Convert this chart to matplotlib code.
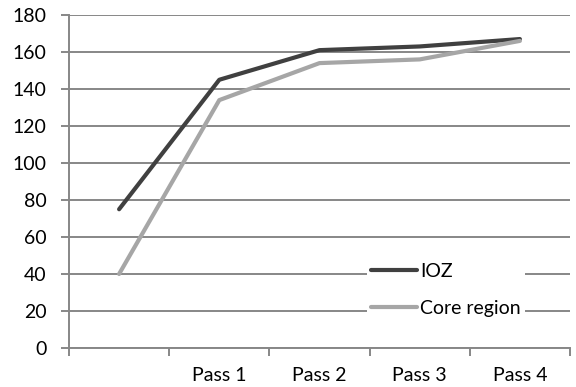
import matplotlib.pyplot as plt
import numpy as np

categories = ["", "Pass 1", "Pass 2", "Pass 3", "Pass 4"]
ioz = [75, 145, 161, 163, 167]
core = [40, 134, 154, 156, 166]

plt.rcParams['font.family'] = ['Lato', 'DejaVu Sans']

fig = plt.figure(figsize=(5.76, 3.87), dpi=100)
ax = fig.add_axes([69/576, 1-348/387, 501/576, 333/387])

x = np.arange(len(categories))
grid_c = '#878787'
for v in range(0, 181, 20):
    ax.axhline(v, color=grid_c, lw=1.4, zorder=1)

ax.plot(x, ioz, color='#404040', lw=3.0, label='IOZ', zorder=3, solid_capstyle='round')
ax.plot(x, core, color='#a6a6a6', lw=3.0, label='Core region', zorder=3, solid_capstyle='round')

ax.set_xlim(-0.5, len(categories) - 0.5)
ax.set_ylim(0, 180)
ax.set_yticks(range(0, 181, 20))
ax.set_xticks(x)
ax.set_xticklabels(categories)
ax.set_xticks(np.arange(-0.5, len(categories), 1.0), minor=True)
ax.tick_params(axis='x', which='major', length=0, pad=13.5, labelsize=14)
ax.tick_params(axis='x', which='minor', length=6, color=grid_c, width=1.4)
ax.tick_params(axis='y', length=6, color=grid_c, width=1.4, labelsize=14, pad=10)

for s in ['top', 'right']:
    ax.spines[s].set_visible(False)
ax.spines['left'].set_color(grid_c)
ax.spines['left'].set_linewidth(1.4)
ax.spines['bottom'].set_color(grid_c)
ax.spines['bottom'].set_linewidth(1.4)

leg = ax.legend(loc='center left', bbox_to_anchor=(0.575, 0.175), frameon=True,
                facecolor='white', edgecolor='none', framealpha=1, fancybox=False,
                handlelength=2.4, handletextpad=0.15, labelspacing=1.05,
                fontsize=14, borderpad=0.2)
leg.set_zorder(5)

fig.savefig('out.png', dpi=100)
